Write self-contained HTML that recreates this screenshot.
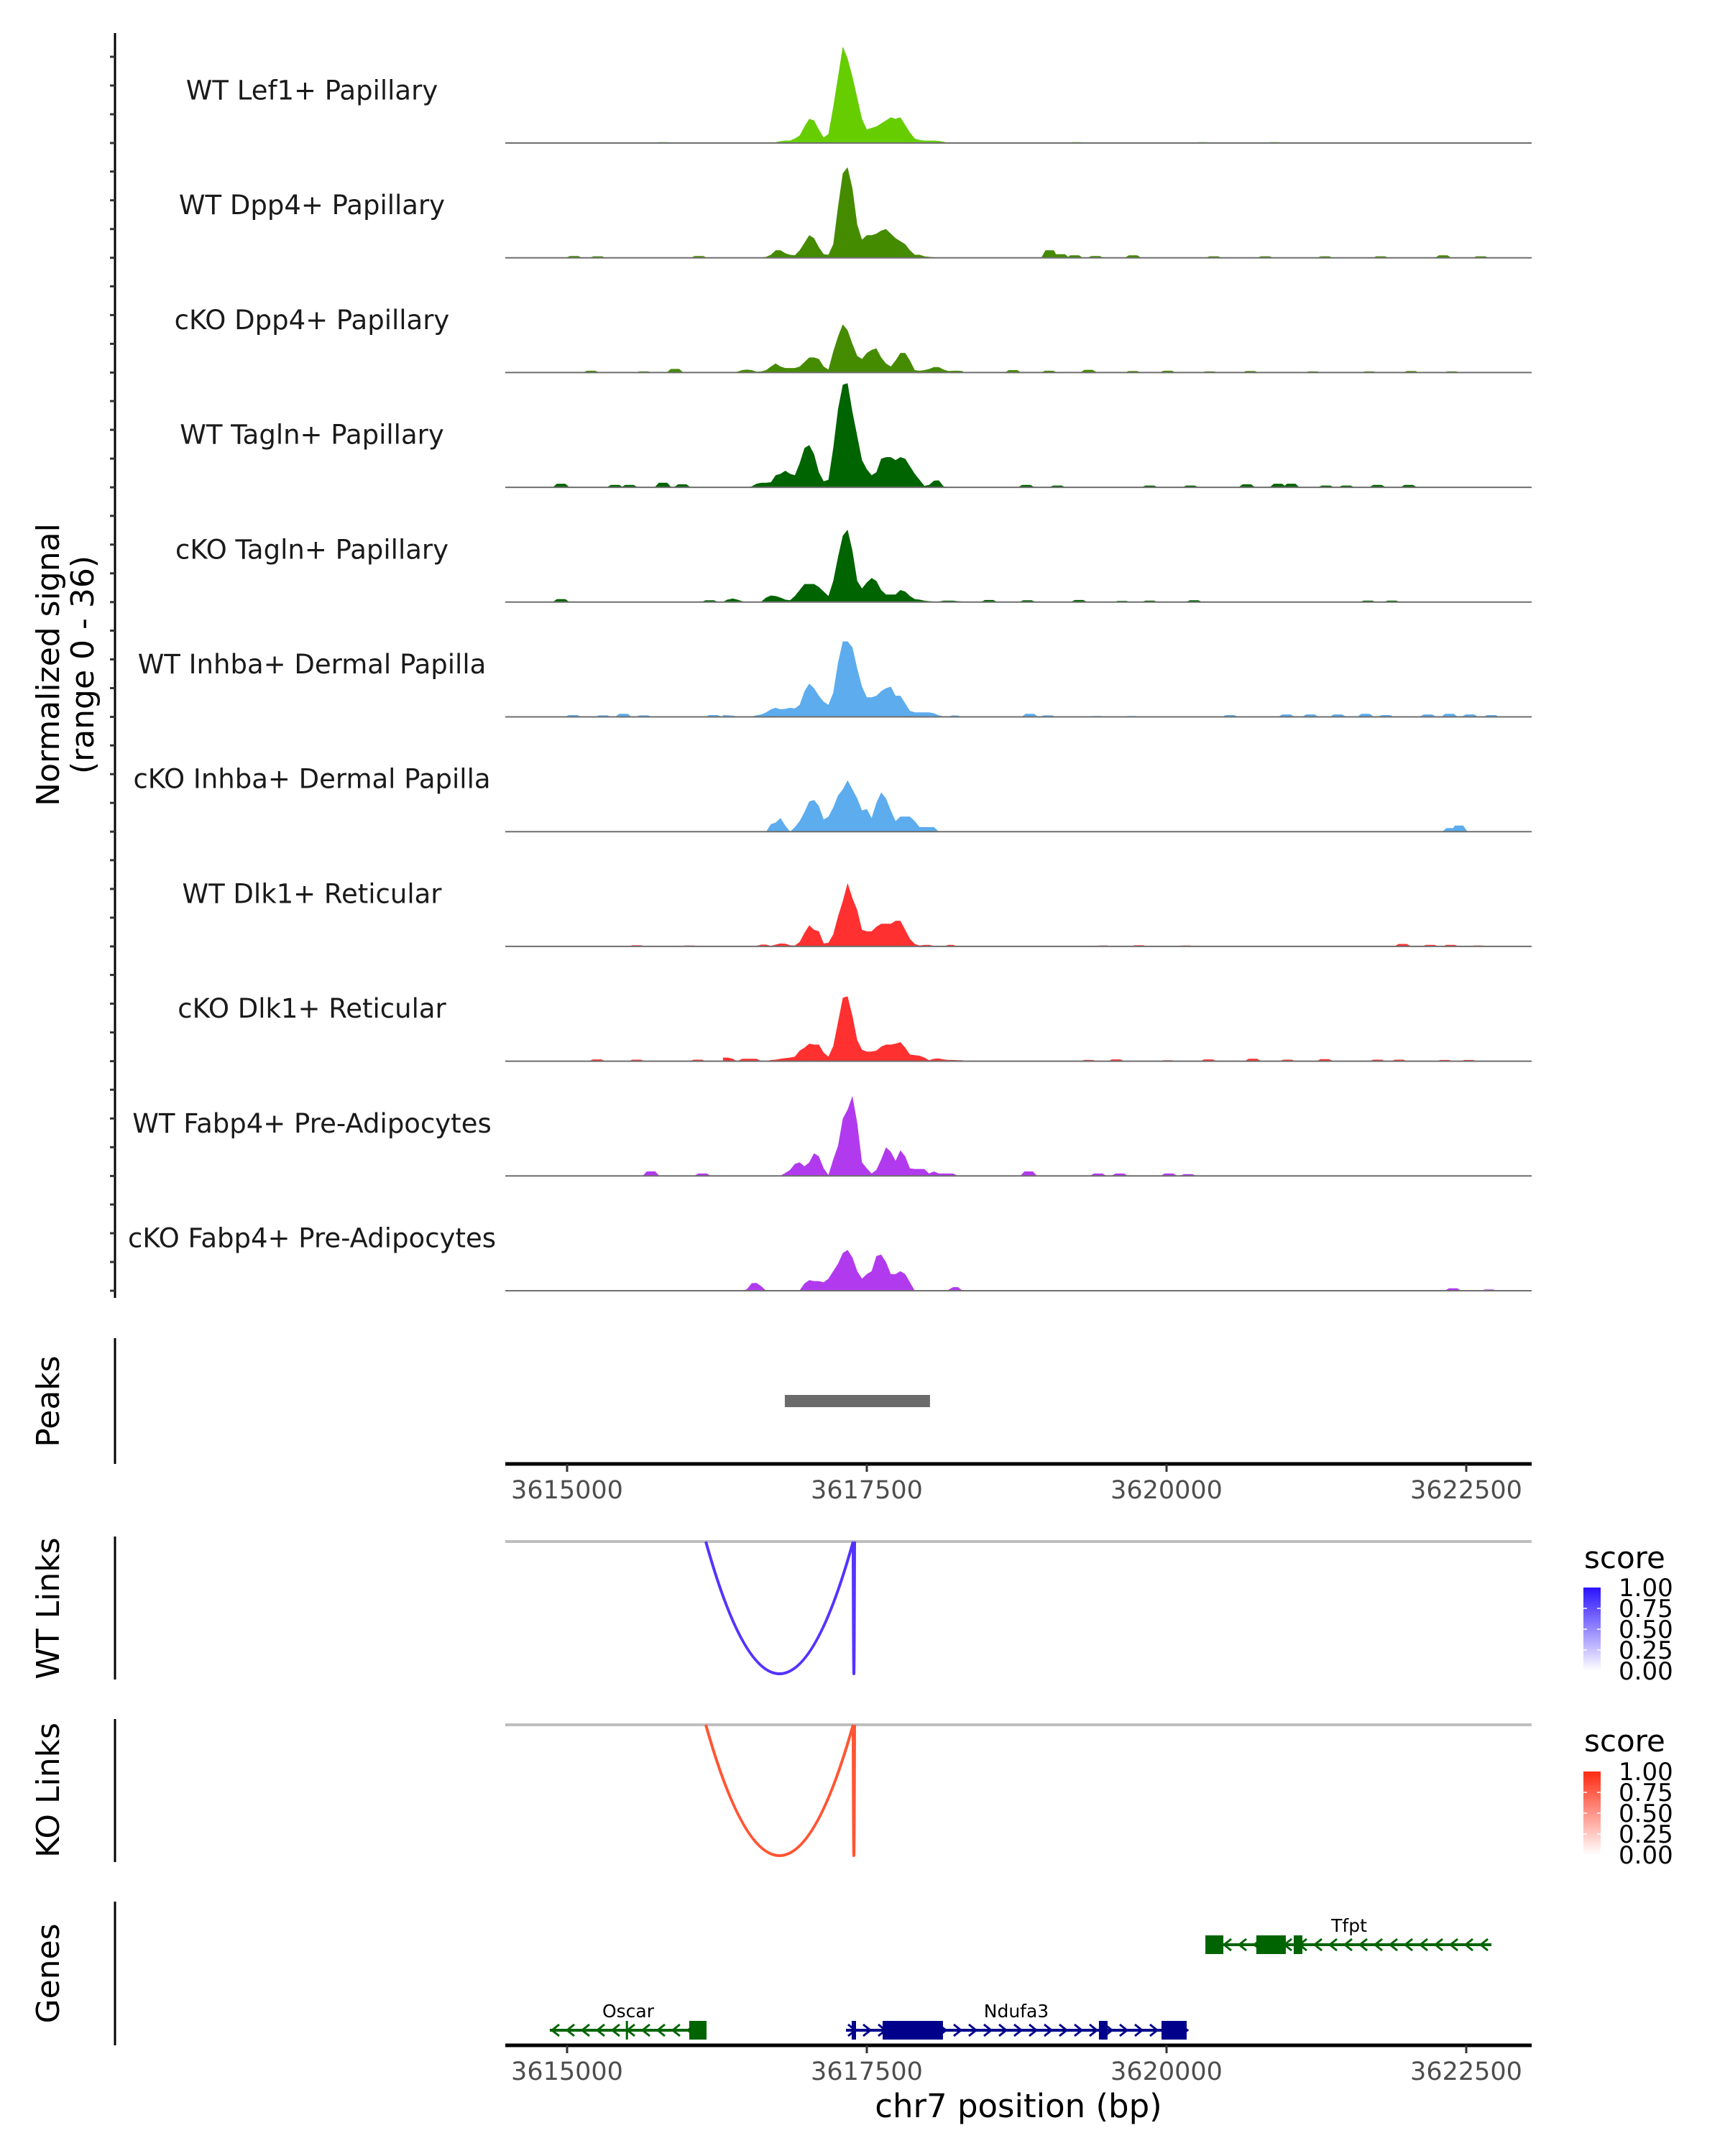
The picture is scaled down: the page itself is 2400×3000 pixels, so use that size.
<!DOCTYPE html>
<html><head><meta charset="utf-8"><style>
html,body{margin:0;padding:0;background:#fff;}
svg{display:block;font-family:"DejaVu Sans","Liberation Sans",sans-serif;}
</style></head><body>
<svg id="chart" width="2400" height="3000" viewBox="0 0 2400 3000" xmlns="http://www.w3.org/2000/svg">
<defs>
<linearGradient id="gWT" x1="0" y1="1" x2="0" y2="0"><stop offset="0" stop-color="#ffffff"/><stop offset="1" stop-color="#2a12ff"/></linearGradient>
<linearGradient id="gKO" x1="0" y1="1" x2="0" y2="0"><stop offset="0" stop-color="#ffffff"/><stop offset="1" stop-color="#ff2a12"/></linearGradient>
</defs>
<g id="tracks"></g>
<g id="lower"></g>
<text transform="translate(82,925) rotate(-90)" text-anchor="middle" font-size="44" fill="#000">Normalized signal</text>
<text transform="translate(130,925) rotate(-90)" text-anchor="middle" font-size="44" fill="#000">(range 0 - 36)</text>
<text transform="translate(82,1950) rotate(-90)" text-anchor="middle" font-size="44" fill="#000">Peaks</text>
<text transform="translate(82,2238) rotate(-90)" text-anchor="middle" font-size="44" fill="#000">WT Links</text>
<text transform="translate(82,2491) rotate(-90)" text-anchor="middle" font-size="44" fill="#000">KO Links</text>
<text transform="translate(82,2746) rotate(-90)" text-anchor="middle" font-size="44" fill="#000">Genes</text>
<text x="1417" y="2946" text-anchor="middle" font-size="45" fill="#000">chr7 position (bp)</text>
</svg>
<script>
// ---- data ----
const trackNames = ["WT Lef1+ Papillary","WT Dpp4+ Papillary","cKO Dpp4+ Papillary","WT Tagln+ Papillary","cKO Tagln+ Papillary","WT Inhba+ Dermal Papilla","cKO Inhba+ Dermal Papilla","WT Dlk1+ Reticular","cKO Dlk1+ Reticular","WT Fabp4+ Pre-Adipocytes","cKO Fabp4+ Pre-Adipocytes"];
const trackColors = ["#66CD00","#458B00","#458B00","#006400","#006400","#5CACEE","#5CACEE","#FF3030","#FF3030","#B23AEE","#B23AEE"];
const gridStart = 3616300;
const gridStep = 40;
const sigWTLef1 = [0,0,0,0.1,0.2,0.15,0,0,0,0,0,0.3,0.6,0.8,0.8,1.5,2.5,5.5,8,7.5,4.5,1.8,3,12,22,32,28,22,15,8,4.5,5,5.5,6.5,7.5,8.5,8,8.5,6,3.5,1.5,1,0.8,0.8,0.8,0.7,0.4,0.1,0,0,0];
const sigWTDpp4 = [0,0,0,0,0,0,0,0,0.1,0.3,1,2.5,2.5,1.5,1,0.8,2.5,5,7.5,6.5,3.5,1.2,1,4.5,17,28,30,23,11,6,7.5,7.5,8,9,9.5,8,6.5,5.5,4.5,2.5,1,1,0.5,0.3,0.2,0,0,0,0,0,0];
const sigKODpp4 = [0,0,0,0.3,0.8,1,0.8,0.3,0.4,0.8,2,3,2,1.5,1.5,1.5,2,3.5,5,5,4.5,2,1,7,12,16,14,9.5,5.5,4.5,6.5,7.5,8,5,3,2,4,6.5,6.5,4,0.8,0.6,0.8,1.2,1.8,1.8,1,0.5,0.6,0.6,0.5];
const sigWTTagln = [0,0,0,0,0,0,0.3,1.2,1.5,1.5,1.7,4,4.5,5.5,4.5,4,8,13,14,11,5,2,2.5,13,26,34,34.5,25,17,9,6,4,5,9.5,10,10,9,10,9.5,7,4.5,2.5,0.5,0.8,2.2,2.3,0.3,0,0,0,0];
const sigKOTagln = [0,0.8,1.2,0.8,0.3,0,0,0,0.2,1.5,2.2,2,1.5,0.8,0.6,2,4,6,6,6,5,3.5,2,7,15,22,24,17,7,4.5,6.5,8,7,4,2.5,2.5,2.5,4,3.5,2,1,0.8,0.5,0.3,0.2,0.2,0.5,0.5,0.5,0.3,0.2];
const sigWTInhba = [0.6,0.5,0.4,0.2,0.2,0.2,0.2,0.5,0.8,1.5,2.5,3,2.5,2.7,3,2.8,4,8.5,11,9.5,7,5,4,8,18,25,25,23,16,10,6.5,6.5,7,8.5,9.5,10,7,7,4.5,2,1.5,1.5,1.5,1.5,1.2,0.5,0.2,0.2,0.5,0.4,0];
const sigKOInhba = [0,0,0,0,0,0,0,0,0,0,2.5,3,4.5,2,0,1.5,3.5,6.5,10,10.5,8.5,4,5,8,12,14,17,14,11,7,7.5,4.5,9.5,13,11,7,3.5,5,5,5,3.5,1.5,1.5,1.5,1.5,0,0,0,0,0,0];
const sigWTDlk1 = [0,0,0,0,0,0,0,0.2,0.6,0.6,0.2,0.6,1,0.9,0.4,0.3,1.5,4.5,7,5.5,5,1,1.2,4,10,15,21,16,12,5.5,5,5,6.5,7.5,7.5,7.5,8.5,8.5,5.5,2.5,0.8,0.3,0.5,0.5,0.2,0,0,0.5,0.5,0,0];
const sigKODlk1 = [1.2,1.2,0.8,0,0.8,0.8,0.8,0.8,0,0,0.4,0.5,0.8,1,1.2,1.5,3.5,4.5,5.8,5.5,5.5,2.8,1.5,5,13,21,21.5,15,7,3.8,3.2,3.2,3.5,4.8,5.5,5.5,5.8,6.3,4.5,2.2,2,1.8,1.2,0.3,0.8,0.9,0.6,0.4,0.4,0.3,0.3];
const sigWTFabp4 = [0,0,0,0,0,0,0,0,0,0,0,0,0.1,1,2,4,4.5,3.2,4.5,7.5,6.5,2.5,0.3,5.5,10,19,22,26.5,17.5,4.5,2.5,0.8,2,5.5,9.5,8,5,8.5,6.5,2.5,2.3,2.3,2.3,0.8,1.5,0.8,0.8,0.8,0.8,0,0];
const sigKOFabp4 = [0,0,0,0,0,0.5,2.5,2.6,1.5,0,0,0,0,0,0,0,0.2,2.4,3.5,3.2,3.2,2.8,4,6.5,9,12.5,13.5,11,6.5,4,5.5,6.5,11.5,12,9.5,5.5,5.5,6.5,5.5,2.8,0,0,0,0,0,0,0,0.3,1.2,1.2,0];
const signals = [sigWTLef1,sigWTDpp4,sigKODpp4,sigWTTagln,sigKOTagln,sigWTInhba,sigKOInhba,sigWTDlk1,sigKODlk1,sigWTFabp4,sigKOFabp4];
const bumpPosWTLef1 = [3615800,3619250,3619550,3620300,3620900,3622400];
const bumpValWTLef1 = [0.3,0.3,0.2,0.3,0.3,0.2];
const bumpPosWTDpp4 = [3615058,3615255,3616100,3619025,3619118,3619234,3619408,3619721,3620394,3620823,3621322,3621786,3622308,3622621];
const bumpValWTDpp4 = [0.6,0.5,0.6,2.5,1.2,0.8,0.6,0.8,0.5,0.5,0.5,0.5,0.8,0.5];
const bumpPosKODpp4 = [3615200,3615640,3615900,3618720,3619020,3619350,3619720,3620010,3620360,3620700,3621220,3621690,3622040,3622380];
const bumpValKODpp4 = [0.6,0.4,1.2,0.8,0.6,0.9,0.5,0.6,0.4,0.5,0.4,0.4,0.5,0.4];
const bumpPosWTTagln = [3614950,3615400,3615520,3615800,3615960,3618830,3619090,3619860,3620200,3620670,3620930,3621040,3621330,3621500,3621760,3622020];
const bumpValWTTagln = [1.2,0.8,0.8,1.5,1.0,0.8,0.6,0.6,0.6,1.0,1.2,1.2,0.6,0.6,0.8,0.8];
const bumpPosKOTagln = [3614950,3616190,3616370,3618520,3618840,3619270,3619630,3619860,3620230,3621680,3621880];
const bumpValKOTagln = [1.0,0.6,0.8,0.7,0.6,0.7,0.4,0.5,0.6,0.5,0.5];
const bumpPosWTInhba = [3615050,3615300,3615470,3615640,3616220,3618860,3619010,3619420,3619710,3620530,3621000,3621200,3621430,3621660,3621830,3622180,3622360,3622530,3622710];
const bumpValWTInhba = [0.6,0.5,1.0,0.5,0.6,1.0,0.5,0.3,0.3,0.6,0.8,0.8,0.8,1.0,0.6,0.8,1.0,0.8,0.6];
const bumpPosKOInhba = [3622370,3622440];
const bumpValKOInhba = [1.2,2.0];
const bumpPosWTDlk1 = [3615580,3616020,3619470,3619770,3620160,3621970,3622200,3622370,3622600];
const bumpValWTDlk1 = [0.4,0.3,0.3,0.4,0.3,0.8,0.5,0.5,0.3];
const bumpPosKODlk1 = [3615250,3615580,3616090,3619350,3619580,3620010,3620350,3620720,3621010,3621320,3621760,3621940,3622320,3622520];
const bumpValKODlk1 = [0.6,0.5,0.5,0.4,0.6,0.3,0.6,0.8,0.5,0.7,0.5,0.5,0.4,0.4];
const bumpPosWTFabp4 = [3615700,3616130,3618850,3619430,3619610,3620020,3620180];
const bumpValWTFabp4 = [1.5,0.8,1.5,0.8,0.8,0.8,0.6];
const bumpPosKOFabp4 = [3622390,3622690];
const bumpValKOFabp4 = [0.8,0.4];
const bumpPos = [bumpPosWTLef1,bumpPosWTDpp4,bumpPosKODpp4,bumpPosWTTagln,bumpPosKOTagln,bumpPosWTInhba,bumpPosKOInhba,bumpPosWTDlk1,bumpPosKODlk1,bumpPosWTFabp4,bumpPosKOFabp4];
const bumpVal = [bumpValWTLef1,bumpValWTDpp4,bumpValKODpp4,bumpValWTTagln,bumpValKOTagln,bumpValWTInhba,bumpValKOInhba,bumpValWTDlk1,bumpValKODlk1,bumpValWTFabp4,bumpValKOFabp4];
const xTicks = [3615000,3617500,3620000,3622500];
const xTickLabels = ["3615000","3617500","3620000","3622500"];
const peakStart = [3616816];
const peakEnd = [3618027];
const wtLinkStart = [3616157,3617386];
const wtLinkEnd = [3617386,3617398];
const wtLinkScore = [0.8,0.8];
const koLinkStart = [3616157,3617386];
const koLinkEnd = [3617386,3617398];
const koLinkScore = [0.8,0.8];
const legendTicks = [1.00,0.75,0.50,0.25,0.00];
const legendTickLabels = ["1.00","0.75","0.50","0.25","0.00"];
const geneNames = ["Tfpt","Oscar","Ndufa3"];
const geneStart = [3620336,3614856,3617326];
const geneEnd = [3622710,3616163,3620168];
const geneStrand = ["-","-","+"];
const geneColor = ["#006400","#006400","#00008B"];
const geneRow = [0,1,1];
const exonStarts = [[3620324,3620749,3621061],[3615490,3616019],[3617374,3617632,3619436,3619958]];
const exonEnds = [[3620474,3620995,3621133],[3615505,3616163],[3617410,3618135,3619508,3620168]];

// ---- scales ----
const NS = "http://www.w3.org/2000/svg";
const PX_PER_BP = 0.1668;
function xs(bp){ return 789 + (bp - 3615000) * PX_PER_BP; }
const PLOT_L = 703, PLOT_R = 2131;
const TRACK0 = 199, TRACK_SP = 159.7, V_PX = 4.2;
function ys(v, base){ return base - v * V_PX; }
function mk(tag, attrs, parent){ const e = document.createElementNS(NS, tag); for (const k in attrs) e.setAttribute(k, attrs[k]); parent.appendChild(e); return e; }

const tracks = document.getElementById('tracks');
const lower = document.getElementById('lower');

const ax = mk('line', {x1:160,y1:46,x2:160,y2:1806,stroke:'#000','stroke-width':3}, tracks);



trackNames.forEach((name, i) => {
  const base = TRACK0 + TRACK_SP * i;
  const g = mk('g', {}, tracks);
  
  
  for (let j = 0; j < 4; j++) {
    const yy = base - 40 * j;
    if (yy < 46) continue;
    const t = mk('line', {x1:153,y1:yy,x2:160,y2:yy,stroke:'#333','stroke-width':3}, g);
    
    
  }
  const lab = mk('text', {x:434,y:base-71,'text-anchor':'middle','dominant-baseline':'middle','font-size':37,fill:'#1a1a1a'}, g);
  lab.textContent = name;
  
  
  const vals = signals[i];
  let d = 'M' + xs(gridStart).toFixed(1) + ',' + base;
  vals.forEach((v, k) => { d += ' L' + xs(gridStart + gridStep * k).toFixed(1) + ',' + ys(v, base).toFixed(1); });
  d += ' L' + xs(gridStart + gridStep * (vals.length - 1)).toFixed(1) + ',' + base + ' Z';
  const area = mk('path', {d:d, fill:trackColors[i]}, g);
  
  
  bumpPos[i].forEach((p, k) => {
    const v = bumpVal[i][k];
    const bd = 'M' + xs(p - 70).toFixed(1) + ',' + base + ' L' + xs(p - 35).toFixed(1) + ',' + ys(v, base).toFixed(1) + ' L' + xs(p + 35).toFixed(1) + ',' + ys(v, base).toFixed(1) + ' L' + xs(p + 70).toFixed(1) + ',' + base + ' Z';
    const b = mk('path', {d:bd, fill:trackColors[i]}, g);
    
    
  });
  const bl = mk('line', {x1:PLOT_L,y1:base,x2:PLOT_R,y2:base,stroke:'#6e6e6e','stroke-width':2}, g);
  
  
});

[[1862,2037,'peaks-y-axis'],[2138,2337,'wt-links-y-axis'],[2392,2591,'ko-links-y-axis'],[2646,2846,'genes-y-axis']].forEach(a => {
  const l = mk('line', {x1:160,y1:a[0],x2:160,y2:a[1],stroke:'#000','stroke-width':3}, lower);
  
  
});

peakStart.forEach((s, k) => {
  const r = mk('rect', {x:xs(s),y:1941,width:xs(peakEnd[k]) - xs(s),height:17,fill:'#6b6b6b'}, lower);
  
  
});

function xAxis(y, name){
  const g = mk('g', {}, lower);
  
  
  const l = mk('line', {x1:PLOT_L,y1:y,x2:PLOT_R,y2:y,stroke:'#000','stroke-width':5}, g);
  
  
  xTicks.forEach((t, k) => {
    const tk = mk('line', {x1:xs(t),y1:y,x2:xs(t),y2:y+11,stroke:'#333','stroke-width':3}, g);
    
    
    const tx = mk('text', {x:xs(t),y:y+48,'text-anchor':'middle','font-size':35,fill:'#4d4d4d'}, g);
    tx.textContent = xTickLabels[k];
    
    
  });
}
xAxis(2037, 'peaks-x-axis');
xAxis(2846, 'genes-x-axis');

function links(top, bottom, starts, ends, color, name){
  const g = mk('g', {}, lower);
  
  
  const gl = mk('line', {x1:PLOT_L,y1:top,x2:PLOT_R,y2:top,stroke:'#bebebe','stroke-width':4}, g);
  
  
  starts.forEach((s, k) => {
    const x1 = xs(s), x2 = xs(ends[k]), mx = (x1 + x2) / 2;
    const cy = top + 2 * (bottom - top);
    const p = mk('path', {d:'M' + x1 + ',' + top + ' Q' + mx + ',' + cy + ' ' + x2 + ',' + top, fill:'none', stroke:color, 'stroke-width':4}, g);
    
    
  });
}
links(2145, 2329, wtLinkStart, wtLinkEnd, '#5533ff', 'wt-links');
links(2400, 2582, koLinkStart, koLinkEnd, '#ff5533', 'ko-links');

function legend(titleY, barTop, grad, name){
  const g = mk('g', {}, lower);
  
  
  const t = mk('text', {x:2204,y:titleY,'font-size':42,fill:'#000'}, g);
  t.textContent = 'score';
  
  
  const h = 116;
  const r = mk('rect', {x:2203,y:barTop,width:24,height:h,fill:'url(#' + grad + ')'}, g);
  
  
  legendTicks.forEach((v, k) => {
    const yy = barTop + (1 - v) * h;
    if (v > 0 && v < 1) {
      mk('line', {x1:2203,y1:yy,x2:2208,y2:yy,stroke:'#fff','stroke-width':1.5}, g);
      mk('line', {x1:2222,y1:yy,x2:2227,y2:yy,stroke:'#fff','stroke-width':1.5}, g);
    }
    const tx = mk('text', {x:2252,y:yy+12,'font-size':34,fill:'#000'}, g);
    tx.textContent = legendTickLabels[k];
    
    
  });
}
legend(2182, 2209, 'gWT', 'wt-score-legend');
legend(2437, 2465, 'gKO', 'ko-score-legend');

const rowY = [2706, 2825];
geneNames.forEach((n, i) => {
  const y = rowY[geneRow[i]];
  const c = geneColor[i];
  const g = mk('g', {}, lower);
  
  
  const x1 = xs(geneStart[i]), x2 = xs(geneEnd[i]);
  mk('line', {x1:x1,y1:y,x2:x2,y2:y,stroke:c,'stroke-width':4}, g);
  for (let x = x1 + 8; x <= x2 - 2; x += 21) {
    const dir = geneStrand[i] === '-' ? -1 : 1;
    mk('polyline', {points:(x - dir * 5) + ',' + (y - 8) + ' ' + (x + dir * 5) + ',' + y + ' ' + (x - dir * 5) + ',' + (y + 8), fill:'none', stroke:c, 'stroke-width':3}, g);
  }
  exonStarts[i].forEach((s, k) => {
    const ex = mk('rect', {x:xs(s),y:y-13,width:Math.max(3, xs(exonEnds[i][k]) - xs(s)),height:26,fill:c}, g);
    
    
  });
  const lab = mk('text', {x:(x1 + x2) / 2,y:y-18,'text-anchor':'middle','font-size':25,fill:'#000'}, g);
  lab.textContent = n;
  
  
});
</script>
</body></html>
